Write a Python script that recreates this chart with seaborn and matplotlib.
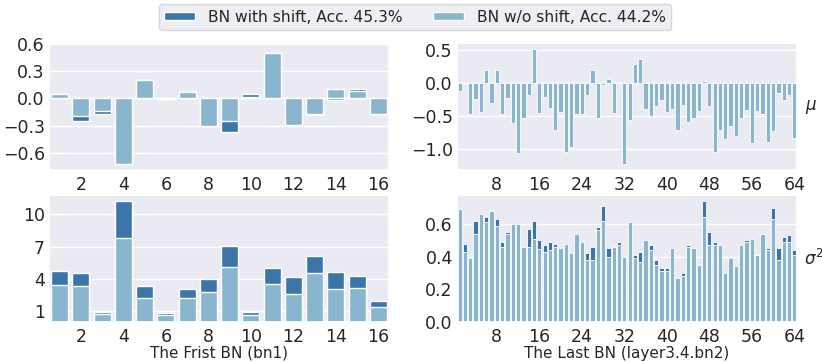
import matplotlib
matplotlib.use("Agg")
import matplotlib.pyplot as plt
import seaborn as sns
import numpy as np
from matplotlib.patches import Patch

# ---------------- data ----------------
ch16 = list(range(1, 17))
ch64 = list(range(1, 65))

first_mu_shift = [0.05, -0.25, -0.17, -0.72, 0.20, -0.01, 0.07, -0.31, -0.37, 0.05, 0.50, -0.29, -0.185, -0.02, 0.10, -0.17]
first_mu_noshift = [0.05, -0.19, -0.14, -0.72, 0.20, -0.01, 0.07, -0.31, -0.25, 0.01, 0.50, -0.29, -0.175, 0.10, 0.085, -0.17]

first_var_shift = [4.7, 4.55, 0.97, 11.2, 3.38, 0.88, 3.07, 3.96, 7.08, 0.91, 4.98, 4.18, 6.15, 4.64, 4.3, 1.96]
first_var_noshift = [3.43, 3.31, 0.72, 7.85, 2.27, 0.63, 2.23, 2.79, 5.14, 0.66, 3.56, 2.6, 4.52, 3.07, 3.16, 1.43]

last_mu_noshift = [-0.11, 0.01, -0.47, -0.23, -0.43, 0.20, -0.30, 0.20, -0.46, -0.22,
                   -0.60, -1.05, -0.52, -0.17, 0.52, -0.45, -0.21, -0.37, -0.71, -0.43,
                   -1.04, -0.96, -0.46, -0.46, -0.17, 0.20, -0.52, -0.02, 0.06, -0.45,
                   0.02, -1.22, -0.55, 0.30, 0.37, -0.39, -0.49, -0.34, -0.25, -0.43,
                   -0.39, -0.70, -0.32, -0.58, -0.52, -0.42, 0.04, -0.34, -1.04, -0.70,
                   -0.84, -0.65, -0.79, -0.53, -0.40, -0.90, -0.42, -0.46, -0.88, -0.72,
                   -0.15, -0.25, -0.17, -0.82]
last_mu_shift = [-0.11, 0.01, -0.47, -0.23, -0.43, 0.20, -0.30, 0.20, -0.46, -0.22,
                 -0.60, -1.05, -0.52, -0.17, 0.52, -0.45, -0.21, -0.37, -0.71, -0.43,
                 -1.04, -0.96, -0.46, -0.46, -0.17, 0.20, -0.52, -0.02, 0.06, -0.45,
                 0.02, -1.22, -0.55, 0.30, 0.37, -0.39, -0.49, -0.34, -0.25, -0.43,
                 -0.39, -0.70, -0.32, -0.58, -0.52, -0.42, 0.04, -0.34, -1.04, -0.70,
                 -0.84, -0.65, -0.79, -0.53, -0.40, -0.90, -0.42, -0.46, -0.88, -0.72,
                 -0.15, -0.25, -0.17, -0.82]

last_var_noshift = [0.69, 0.43, 0.39, 0.54, 0.66, 0.61, 0.68, 0.59, 0.46, 0.54,
                    0.60, 0.60, 0.46, 0.46, 0.51, 0.445, 0.43, 0.44, 0.46, 0.45,
                    0.48, 0.42, 0.54, 0.49, 0.38, 0.38, 0.56, 0.62, 0.40, 0.46,
                    0.47, 0.40, 0.61, 0.39, 0.37, 0.50, 0.44, 0.35, 0.31, 0.31,
                    0.45, 0.27, 0.28, 0.46, 0.45, 0.35, 0.64, 0.47, 0.47, 0.47,
                    0.30, 0.39, 0.34, 0.47, 0.49, 0.51, 0.41, 0.54, 0.44, 0.63,
                    0.38, 0.49, 0.49, 0.41]
last_var_shift = [0.69, 0.48, 0.39, 0.62, 0.66, 0.64, 0.68, 0.63, 0.49, 0.55,
                  0.60, 0.60, 0.46, 0.57, 0.62, 0.50, 0.47, 0.49, 0.48, 0.45,
                  0.48, 0.43, 0.54, 0.49, 0.42, 0.46, 0.58, 0.71, 0.45, 0.46,
                  0.49, 0.40, 0.61, 0.41, 0.43, 0.50, 0.47, 0.38, 0.33, 0.33,
                  0.45, 0.27, 0.30, 0.47, 0.45, 0.35, 0.74, 0.55, 0.49, 0.47,
                  0.30, 0.40, 0.34, 0.47, 0.50, 0.51, 0.41, 0.54, 0.45, 0.70,
                  0.45, 0.52, 0.53, 0.44]

label_shift = "BN with shift, Acc. 45.3%"
label_noshift = "BN w/o shift, Acc. 44.2%"

ticks16 = [2, 4, 6, 8, 10, 12, 14, 16]
ticks64 = [8, 16, 24, 32, 40, 48, 56, 64]

# ---------------- style ----------------
sns.set_theme(style="darkgrid")
plt.rcParams['font.family'] = ['DejaVu Sans']
plt.rcParams['font.size'] = 10

DARK = "#3a76a9"
LIGHT = "#8ab5cf"
TICK_FS = 12.5

fig = plt.figure(figsize=(8.22, 3.62), dpi=100)
W = 340 / 822
H = 127 / 362
ax_tl = fig.add_axes([49 / 822, 1 - 170 / 362, W, H])
ax_bl = fig.add_axes([49 / 822, 1 - 322 / 362, W, H])
ax_tr = fig.add_axes([457 / 822, 1 - 170 / 362, W, H])
ax_br = fig.add_axes([457 / 822, 1 - 322 / 362, W, H])


def draw(ax, x, shift, noshift, ticks, lw):
    sns.barplot(x=x, y=shift, color=DARK, saturation=1, ax=ax,
                edgecolor="white", linewidth=lw, width=0.8)
    sns.barplot(x=x, y=noshift, color=LIGHT, saturation=1, ax=ax,
                edgecolor="white", linewidth=lw, width=0.8)
    ax.set_xticks([t - 1 for t in ticks])
    ax.set_xticklabels([str(t) for t in ticks])
    ax.set_xlim(-0.5, len(x) - 0.5)
    ax.tick_params(axis="x", labelsize=TICK_FS, pad=4, length=0)
    ax.tick_params(axis="y", labelsize=TICK_FS, pad=3, length=0)
    ax.set_ylabel("")
    ax.set_xlabel("")


draw(ax_tl, ch16, first_mu_shift, first_mu_noshift, ticks16, 1.0)
ax_tl.set_ylim(-0.79, 0.61)
ax_tl.set_yticks([-0.6, -0.3, 0.0, 0.3, 0.6])
ax_tl.set_yticklabels(["\u22120.6", "\u22120.3", "0.0", "0.3", "0.6"])

draw(ax_bl, ch16, first_var_shift, first_var_noshift, ticks16, 1.0)
ax_bl.set_ylim(0, 11.8)
ax_bl.set_yticks([1, 4, 7, 10])
ax_bl.set_xlabel("The Frist BN (bn1)", fontsize=11, labelpad=0)

draw(ax_tr, ch64, last_mu_shift, last_mu_noshift, ticks64, 0.6)
ax_tr.set_ylim(-1.31, 0.61)
ax_tr.set_yticks([-1.0, -0.5, 0.0, 0.5])
ax_tr.set_yticklabels(["\u22121.0", "\u22120.5", "0.0", "0.5"])
ax_tr.yaxis.set_label_position("right")
ax_tr.set_ylabel(r"$\mu$", rotation=0, fontsize=12, labelpad=6, va="center", ha="left")

draw(ax_br, ch64, last_var_shift, last_var_noshift, ticks64, 0.6)
ax_br.set_ylim(0, 0.777)
ax_br.set_yticks([0.0, 0.2, 0.4, 0.6])
ax_br.set_xlabel("The Last BN (layer3.4.bn2)", fontsize=11, labelpad=0)
ax_br.yaxis.set_label_position("right")
ax_br.set_ylabel(r"$\sigma^2$", rotation=0, fontsize=12, labelpad=5, va="center", ha="left")

handles = [Patch(facecolor=DARK, label=label_shift),
           Patch(facecolor=LIGHT, label=label_noshift)]
fig.legend(handles=handles, loc="center", bbox_to_anchor=(415 / 822, 1 - 17 / 362),
           ncol=2, fontsize=11.2, frameon=True, facecolor="#eaeaf2",
           edgecolor="#d0d0d8", handlelength=2.0, columnspacing=2.0,
           borderpad=0.35, handleheight=0.5)

fig.savefig("out.png", dpi=100)
